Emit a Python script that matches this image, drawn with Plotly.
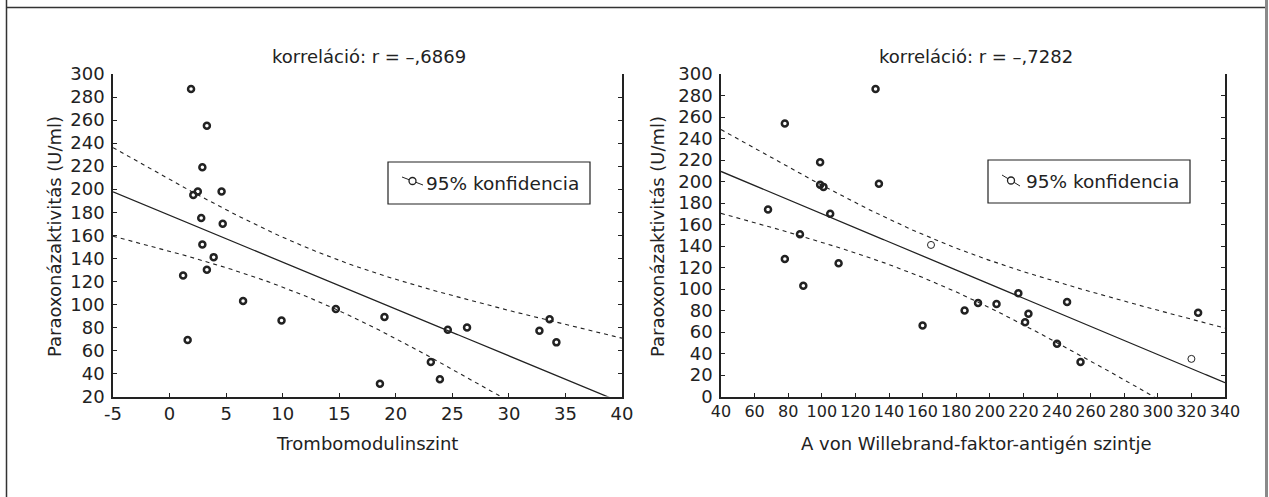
import numpy as np
import plotly.graph_objects as go

W, H = 1269, 497

# ---------------- data ----------------
# Left panel: Trombomodulinszint vs. Paraoxonázaktivitás (U/ml)
tm_level = [1.9, 3.3, 2.9, 2.5, 2.1, 4.6, 2.8, 4.7, 2.9, 3.9, 3.3, 1.2, 1.6,
            6.5, 9.9, 14.7, 19.0, 18.6, 24.6, 26.3, 32.7, 33.6, 34.2, 23.1, 23.9]
tm_pon = [287, 255, 219, 198, 195, 198, 175, 170, 152, 141, 130, 125, 69,
          103, 86, 96, 89, 31, 78, 80, 77, 87, 67, 50, 35]

# Right panel: von Willebrand-faktor-antigén szint vs. Paraoxonázaktivitás
vwf_level = [132, 78, 99, 99, 101, 134, 68, 105, 87, 78, 110, 89, 160,
             185, 193, 204, 217, 223, 221, 246, 240, 254, 324]
vwf_pon = [286, 254, 218, 197, 195, 198, 174, 170, 151, 128, 124, 103, 66,
           80, 87, 86, 96, 77, 69, 88, 49, 32, 78]
vwf_level_open = [165, 320]
vwf_pon_open = [141, 35]

left_title = "korreláció: r = –,6869"
right_title = "korreláció: r = –,7282"
y_title = "Paraoxonázaktivitás (U/ml)"
left_x_title = "Trombomodulinszint"
right_x_title = "A von Willebrand-faktor-antigén szintje"
legend_text = "95% konfidencia"

left_xticks = [-5, 0, 5, 10, 15, 20, 25, 30, 35, 40]
left_xticktext = ["-5", "0", "5", "10", "15", "20", "25", "30", "35", "40"]
left_yticks = list(range(20, 301, 20))
right_xticks = list(range(40, 341, 20))
right_yticks = list(range(0, 301, 20))

T_975 = 2.069  # Student t, df = 23

INK = "#222222"
FONT = "DejaVu Sans"


def fit_band(x, y, lo, hi):
    x = np.asarray(x, float)
    y = np.asarray(y, float)
    n = len(x)
    b, a = np.polyfit(x, y, 1)
    res = y - (a + b * x)
    s = np.sqrt(np.sum(res ** 2) / (n - 2))
    sxx = np.sum((x - x.mean()) ** 2)
    g = np.linspace(lo, hi, 300)
    yh = a + b * g
    hw = T_975 * s * np.sqrt(1.0 / n + (g - x.mean()) ** 2 / sxx)
    return g, yh, yh - hw, yh + hw


fig = go.Figure()

bold_marker = dict(symbol="circle-open", size=6, color=INK, line=dict(width=2.5, color=INK))
thin_marker = dict(symbol="circle-open", size=7, color=INK, line=dict(width=1, color=INK))

# Left panel
g, yh, ylo, yhi = fit_band(tm_level, tm_pon, -5, 40)
fig.add_trace(go.Scatter(x=g, y=yh, mode="lines", line=dict(color=INK, width=1.3),
                         xaxis="x", yaxis="y", showlegend=False))
for band in (ylo, yhi):
    fig.add_trace(go.Scatter(x=g, y=band, mode="lines",
                             line=dict(color=INK, width=1.1, dash="4px,4px"),
                             xaxis="x", yaxis="y", showlegend=False))
fig.add_trace(go.Scatter(x=tm_level, y=tm_pon, mode="markers", marker=bold_marker,
                         xaxis="x", yaxis="y", showlegend=False))

# Right panel
all_x = vwf_level + vwf_level_open
all_y = vwf_pon + vwf_pon_open
g, yh, ylo, yhi = fit_band(all_x, all_y, 40, 340)
fig.add_trace(go.Scatter(x=g, y=yh, mode="lines", line=dict(color=INK, width=1.3),
                         xaxis="x2", yaxis="y2", showlegend=False))
for band in (ylo, yhi):
    fig.add_trace(go.Scatter(x=g, y=band, mode="lines",
                             line=dict(color=INK, width=1.1, dash="4px,4px"),
                             xaxis="x2", yaxis="y2", showlegend=False))
fig.add_trace(go.Scatter(x=vwf_level, y=vwf_pon, mode="markers", marker=bold_marker,
                         xaxis="x2", yaxis="y2", showlegend=False))
fig.add_trace(go.Scatter(x=vwf_level_open, y=vwf_pon_open, mode="markers", marker=thin_marker,
                         xaxis="x2", yaxis="y2", showlegend=False))

# ---------------- layout ----------------
def px_x(p):
    return p / W


def px_y(p):
    return 1 - p / H


ydom = [px_y(396.5), px_y(74)]
axis_common = dict(showline=True, linecolor=INK, linewidth=1.5, ticks="inside",
                   ticklen=4, tickwidth=1.2, tickcolor=INK, showgrid=False,
                   zeroline=False, automargin=False, tickangle=0,
                   tickfont=dict(family=FONT, size=18, color=INK))

fig.update_layout(
    width=W, height=H, autosize=False, margin=dict(l=0, r=0, t=0, b=0, pad=0),
    paper_bgcolor="white", plot_bgcolor="white", showlegend=False,
    xaxis=dict(domain=[px_x(113), px_x(622)], range=[-5, 40], anchor="y",
               tickmode="array", tickvals=left_xticks, ticktext=left_xticktext,
               **axis_common),
    yaxis=dict(domain=ydom, range=[20, 300], anchor="x", tickmode="array",
               tickvals=left_yticks, mirror="ticks", ticklabelstandoff=3, **axis_common),
    xaxis2=dict(domain=[px_x(721), px_x(1225)], range=[40, 340], anchor="y2",
                tickmode="array", tickvals=right_xticks, **axis_common),
    yaxis2=dict(domain=ydom, range=[0, 300], anchor="x2", tickmode="array",
                tickvals=right_yticks, mirror="ticks", ticklabelstandoff=3, **axis_common),
)
fig.update_layout(xaxis2_tickfont=dict(family=FONT, size=16, color=INK))

tfont = dict(family=FONT, size=18, color=INK)
lfont = dict(family=FONT, size=18.5, color=INK)
ann = []
# titles
ann.append(dict(text=left_title, x=px_x(369), y=px_y(57), xref="paper", yref="paper",
                xanchor="center", yanchor="middle", showarrow=False, font=tfont))
ann.append(dict(text=right_title, x=px_x(976), y=px_y(57), xref="paper", yref="paper",
                xanchor="center", yanchor="middle", showarrow=False, font=tfont))
# x titles
ann.append(dict(text=left_x_title, x=px_x(367.5), y=px_y(443), xref="paper", yref="paper",
                xanchor="center", yanchor="middle", showarrow=False, font=tfont))
ann.append(dict(text=right_x_title, x=px_x(976), y=px_y(443), xref="paper", yref="paper",
                xanchor="center", yanchor="middle", showarrow=False, font=tfont))
# y titles
ann.append(dict(text=y_title, x=px_x(54), y=px_y(237), xref="paper", yref="paper",
                xanchor="center", yanchor="middle", textangle=-90, showarrow=False, font=tfont))
ann.append(dict(text=y_title, x=px_x(657), y=px_y(237), xref="paper", yref="paper",
                xanchor="center", yanchor="middle", textangle=-90, showarrow=False, font=tfont))

# legend boxes (drawn as annotation boxes + small symbol)
shapes = []
for (bx0, by0, bx1, by1, sx0, sy0, sx1, sy1) in [
        (388, 162, 590, 204, 402, 177, 423, 185),
        (988, 160, 1190, 203, 1002, 175, 1020, 186)]:
    shapes.append(dict(type="rect", xref="paper", yref="paper",
                       x0=px_x(bx0), x1=px_x(bx1), y0=px_y(by1), y1=px_y(by0),
                       line=dict(color=INK, width=1.2), fillcolor="white", layer="above"))
    ann.append(dict(text=legend_text, x=px_x(bx1 - 9), y=px_y((by0 + by1) / 2),
                    xref="paper", yref="paper", xanchor="right", yanchor="middle",
                    showarrow=False, font=lfont))
    shapes.append(dict(type="line", xref="paper", yref="paper",
                       x0=px_x(sx0), x1=px_x(sx1), y0=px_y(sy0), y1=px_y(sy1),
                       line=dict(color=INK, width=1), layer="above"))
    cx, cy = (sx0 + sx1) / 2, (sy0 + sy1) / 2
    shapes.append(dict(type="circle", xref="paper", yref="paper",
                       x0=px_x(cx - 3.5), x1=px_x(cx + 3.5), y0=px_y(cy + 3.5), y1=px_y(cy - 3.5),
                       line=dict(color=INK, width=1.3), fillcolor="white", layer="above"))

# outer frame
shapes.append(dict(type="line", xref="paper", yref="paper", x0=px_x(6.5), x1=px_x(6.5),
                   y0=0, y1=1, line=dict(color="#333333", width=1.5)))
shapes.append(dict(type="line", xref="paper", yref="paper", x0=px_x(6), x1=px_x(1266),
                   y0=px_y(7.5), y1=px_y(7.5), line=dict(color="#333333", width=1.5)))
shapes.append(dict(type="line", xref="paper", yref="paper", x0=px_x(1266.5), x1=px_x(1266.5),
                   y0=0, y1=1, line=dict(color="#8a8a8a", width=3)))

fig.update_layout(annotations=ann, shapes=shapes)

fig.write_html("out.html", post_script="document.body.style.margin='0';")
